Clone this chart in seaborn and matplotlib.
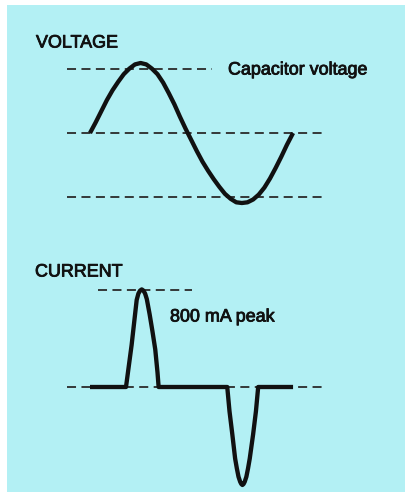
import matplotlib
matplotlib.use("Agg")
import matplotlib.pyplot as plt
from matplotlib.patches import Rectangle
import matplotlib.patheffects as pe
import seaborn as sns
import pandas as pd

# ---------------- data ----------------
# capacitor voltage, phase in degrees, normalised amplitude
volt_deg = [0, 10, 20, 30, 40, 50, 60, 70, 80, 90, 100, 110, 120, 130, 140,
            150, 160, 170, 180, 190, 200, 210, 220, 230, 240, 250, 260, 270,
            280, 290, 300, 310, 320, 330, 340, 350, 361]
volt_val = [0.0, 0.15, 0.31, 0.47, 0.61, 0.73, 0.84, 0.92, 0.98, 1.0, 0.98,
            0.92, 0.84, 0.72, 0.57, 0.41, 0.23, 0.06, -0.10, -0.26, -0.41,
            -0.54, -0.66, -0.77, -0.87, -0.94, -0.99, -1.0, -0.99, -0.95,
            -0.88, -0.78, -0.65, -0.50, -0.34, -0.17, 0.0]
volt_ref_levels = [0.914, 0.0, -0.914]
volt_ref_start = [-41, -41, -41]
volt_ref_end = [217, 414, 414]

# current in mA
curr_deg = [0, 64, 74, 83, 86, 89, 92, 95, 98, 101, 106, 111, 116, 120, 122,
            244, 248, 253, 258, 261, 264, 267, 269, 271, 273, 275, 278, 281,
            284, 290, 295, 299, 361]
curr_val = [0, 0, 347, 718, 770, 795, 805, 795, 770, 725, 600, 460, 310, 120, 0,
            0, -200, -390, -590, -670, -740, -782, -800, -808, -800, -782,
            -740, -670, -590, -390, -200, 0, 0]
curr_ref_levels = [800, 0]
curr_ref_start = [14, -41]
curr_ref_end = [181, 414]

title_voltage = "VOLTAGE"
title_current = "CURRENT"
label_voltage = "Capacitor voltage"
label_current = "800 mA peak"

# ---------------- styling ----------------
sns.set_style("white")
plt.rcParams['font.family'] = ['Liberation Sans', 'DejaVu Sans']

W, H = 405, 492
BG = "#b3f0f4"
INK = "#111111"
DASH = "#2a2a2a"

fig = plt.figure(figsize=(W / 100, H / 100), dpi=100, facecolor="white")
fig.patches.append(Rectangle((7 / W, 0), 1, 1 - 5 / H, transform=fig.transFigure,
                             facecolor=BG, edgecolor="none", zorder=-5))

PX_PER_DEG = 0.5625
X0 = 90
xlim = ((0 - X0) / PX_PER_DEG, (W - X0) / PX_PER_DEG)

# top axes: voltage (pixel rows 0..246)
axv = fig.add_axes([0, 1 - 246 / H, 1, 246 / H])
VPX = 70.0
# bottom axes: current (pixel rows 246..492)
axc = fig.add_axes([0, 0, 1, 246 / H])
IPX = 97 / 800

dash_style = (0, (5.0, 3.0))

axv.hlines(volt_ref_levels, volt_ref_start, volt_ref_end, colors=DASH,
           linewidth=1.3, linestyles=[dash_style], zorder=1)
axc.hlines(curr_ref_levels, curr_ref_start, curr_ref_end, colors=DASH,
           linewidth=1.3, linestyles=[dash_style], zorder=1)

dfv = pd.DataFrame({"deg": volt_deg, "v": volt_val})
dfc = pd.DataFrame({"deg": curr_deg, "i": curr_val})
sns.lineplot(data=dfv, x="deg", y="v", ax=axv, color=INK, linewidth=3.1,
             sort=False, estimator=None, zorder=3)
sns.lineplot(data=dfc, x="deg", y="i", ax=axc, color=INK, linewidth=3.1,
             sort=False, estimator=None, zorder=3)
for ax in (axv, axc):
    for ln in ax.lines:
        ln.set_solid_joinstyle("round")
        ln.set_solid_capstyle("butt")
    ax.set_xlabel("")
    ax.set_ylabel("")
    ax.set_xlim(*xlim)

axv.set_ylim((133 - 246) / VPX, 133 / VPX)
axc.set_ylim((387 - 492) / IPX, (387 - 246) / IPX)

fs = 12.9
effects = [pe.withStroke(linewidth=0.6, foreground=INK)]
axv.text((36 - X0) / PX_PER_DEG, (133 - 43) / VPX, title_voltage, fontsize=fs,
         color=INK, ha="left", va="center", path_effects=effects)
axv.text((228 - X0) / PX_PER_DEG, (133 - 70) / VPX, label_voltage, fontsize=fs,
         color=INK, ha="left", va="center", path_effects=effects)
axc.text((35 - X0) / PX_PER_DEG, (387 - 272) / IPX, title_current, fontsize=fs,
         color=INK, ha="left", va="center", path_effects=effects)
axc.text((170 - X0) / PX_PER_DEG, (387 - 317) / IPX, label_current, fontsize=fs,
         color=INK, ha="left", va="center", path_effects=effects)

for ax in (axv, axc):
    ax.set_facecolor("none")
    ax.set_axis_off()

fig.savefig("out.png", dpi=100, facecolor="white")
